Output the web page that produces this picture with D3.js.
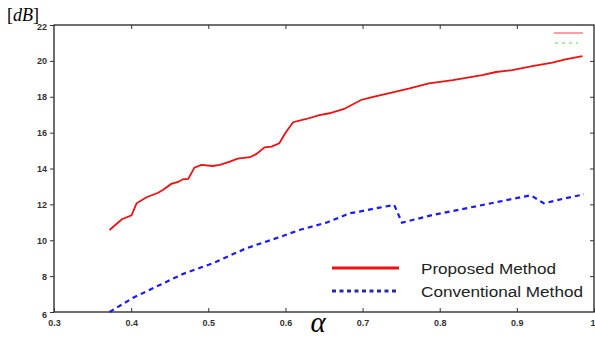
<!DOCTYPE html>
<html>
<head>
<meta charset="utf-8">
<script src="https://cdn.jsdelivr.net/npm/d3@7"></script>
<style>
  body { margin: 0; background: #fff; }
  svg { display: block; }
</style>
</head>
<body>
<div id="chart"></div>
<script>
// alpha values and dB for each method
const proposedAlpha = [0.372, 0.388, 0.4005, 0.407, 0.420, 0.435, 0.441, 0.452, 0.461, 0.467, 0.474, 0.482, 0.491, 0.506, 0.515, 0.528, 0.538, 0.554, 0.562, 0.573, 0.582, 0.592, 0.601, 0.610, 0.627, 0.644, 0.657, 0.676, 0.698, 0.711, 0.739, 0.761, 0.786, 0.817, 0.855, 0.873, 0.894, 0.920, 0.946, 0.963, 0.985];
const proposedDb = [10.57, 11.17, 11.39, 12.06, 12.40, 12.65, 12.80, 13.14, 13.25, 13.40, 13.42, 14.05, 14.20, 14.14, 14.20, 14.38, 14.55, 14.63, 14.80, 15.18, 15.22, 15.41, 16.05, 16.58, 16.76, 16.98, 17.08, 17.32, 17.82, 17.97, 18.25, 18.47, 18.75, 18.93, 19.21, 19.38, 19.49, 19.71, 19.90, 20.09, 20.27];

const conventionalAlpha = [0.372, 0.402, 0.446, 0.467, 0.506, 0.549, 0.592, 0.618, 0.653, 0.683, 0.696, 0.722, 0.741, 0.751, 0.791, 0.834, 0.877, 0.918, 0.935, 0.963, 0.987];
const conventionalDb = [6.0, 6.78, 7.69, 8.12, 8.72, 9.55, 10.17, 10.57, 10.98, 11.50, 11.60, 11.82, 11.97, 10.98, 11.41, 11.78, 12.15, 12.51, 12.06, 12.34, 12.56];

const xTicks = [0.3, 0.4, 0.5, 0.6, 0.7, 0.8, 0.9, 1];
const yTicks = [6, 8, 10, 12, 14, 16, 18, 20, 22];
const legendLabels = ["Proposed Method", "Conventional Method"];
const legendWidths = [135, 162];

const W = 595, H = 340;
const mLeft = 54, mRight = 594, mTop = 25, mBottom = 312;

const svg = d3.select("#chart").append("svg")
  .attr("width", W)
  .attr("height", H);

const x = d3.scaleLinear().domain([0.3, 1]).range([mLeft, mRight]);
const y = d3.scaleLinear().domain([6, 22]).range([mBottom, mTop]);

// frame
svg.append("rect")
  .attr("x", mLeft).attr("y", mTop)
  .attr("width", mRight - mLeft).attr("height", mBottom - mTop)
  .attr("fill", "none").attr("stroke", "#222").attr("stroke-width", 1.3);

// bottom axis, ticks pointing in
const xAxis = svg.append("g")
  .attr("transform", "translate(0," + mBottom + ")")
  .call(d3.axisBottom(x).tickValues(xTicks).tickSize(-4).tickPadding(8)
    .tickFormat(d => d === 1 ? "1" : d3.format(".1f")(d)));
xAxis.select(".domain").remove();

// top axis ticks only
const xTop = svg.append("g")
  .attr("transform", "translate(0," + mTop + ")")
  .call(d3.axisTop(x).tickValues(xTicks.slice(1, -1)).tickSize(-4).tickFormat(""));
xTop.select(".domain").remove();

// left axis, ticks pointing out
const yAxis = svg.append("g")
  .attr("transform", "translate(" + mLeft + ",0)")
  .call(d3.axisLeft(y).tickValues(yTicks).tickSize(4).tickPadding(3));
yAxis.select(".domain").remove();

// right axis ticks only
const yRight = svg.append("g")
  .attr("transform", "translate(" + mRight + ",0)")
  .call(d3.axisRight(y).tickValues(yTicks.slice(1, -1)).tickSize(-4).tickFormat(""));
yRight.select(".domain").remove();

svg.selectAll(".tick line").attr("stroke", "#333").attr("stroke-width", 1);
svg.selectAll(".tick text")
  .attr("font-family", "Liberation Sans, Arial, sans-serif")
  .attr("font-size", 9)
  .attr("font-weight", "bold")
  .attr("fill", "#333");

// the 6 label sits a bit low in the picture
yAxis.selectAll(".tick text").filter(d => d === 6).attr("dy", "0.6em");
yAxis.selectAll(".tick text").filter(d => d === 22).attr("dy", "0.5em");
// "1" at the far right is clipped in the original, keep it inside the page
xAxis.selectAll(".tick text").filter(d => d === 1).attr("text-anchor", "end").attr("dx", 1);

// axis titles
svg.append("text")
  .attr("x", 7).attr("y", 21)
  .attr("font-family", "Liberation Serif, Times New Roman, serif")
  .attr("font-size", 18)
  .text("[")
  .append("tspan").attr("font-style", "italic").text("dB")
  .append("tspan").attr("font-style", "normal").text("]");

svg.append("text")
  .attr("x", 318).attr("y", 332)
  .attr("text-anchor", "middle")
  .attr("font-family", "Liberation Serif, Times New Roman, serif")
  .attr("font-style", "italic")
  .attr("font-size", 29)
  .text("α");

// lines
const line = d3.line().x(d => x(d[0])).y(d => y(d[1]));

svg.append("path")
  .datum(d3.zip(conventionalAlpha, conventionalDb))
  .attr("fill", "none")
  .attr("stroke", "#1a1aff")
  .attr("stroke-width", 2.2)
  .attr("stroke-dasharray", "5,4")
  .attr("d", line);

svg.append("path")
  .datum(d3.zip(proposedAlpha, proposedDb))
  .attr("fill", "none")
  .attr("stroke", "#ee1111")
  .attr("stroke-width", 1.8)
  .attr("d", line);

// stray legend marks in top right corner
svg.append("line")
  .attr("x1", 554).attr("x2", 583).attr("y1", 33).attr("y2", 33)
  .attr("stroke", "#ee4444").attr("stroke-width", 1);
svg.append("line")
  .attr("x1", 555).attr("x2", 578).attr("y1", 43).attr("y2", 43)
  .attr("stroke", "#55dd55").attr("stroke-width", 1)
  .attr("stroke-dasharray", "3,4");

// legend
const legend = svg.append("g");
legendLabels.forEach((label, i) => {
  const ly = 268 + i * 23;
  legend.append("line")
    .attr("x1", 332).attr("x2", 399).attr("y1", ly).attr("y2", ly)
    .attr("stroke", i === 0 ? "#ee1111" : "#2a2aa8")
    .attr("stroke-width", 3)
    .attr("stroke-dasharray", i === 0 ? null : "4,3.5");
  legend.append("text")
    .attr("x", 421).attr("y", ly + 5.5)
    .attr("font-family", "Liberation Sans, Arial, sans-serif")
    .attr("font-size", 15.5)
    .attr("textLength", legendWidths[i])
    .attr("lengthAdjust", "spacingAndGlyphs")
    .attr("fill", "#222")
    .text(label);
});
</script>
</body>
</html>
